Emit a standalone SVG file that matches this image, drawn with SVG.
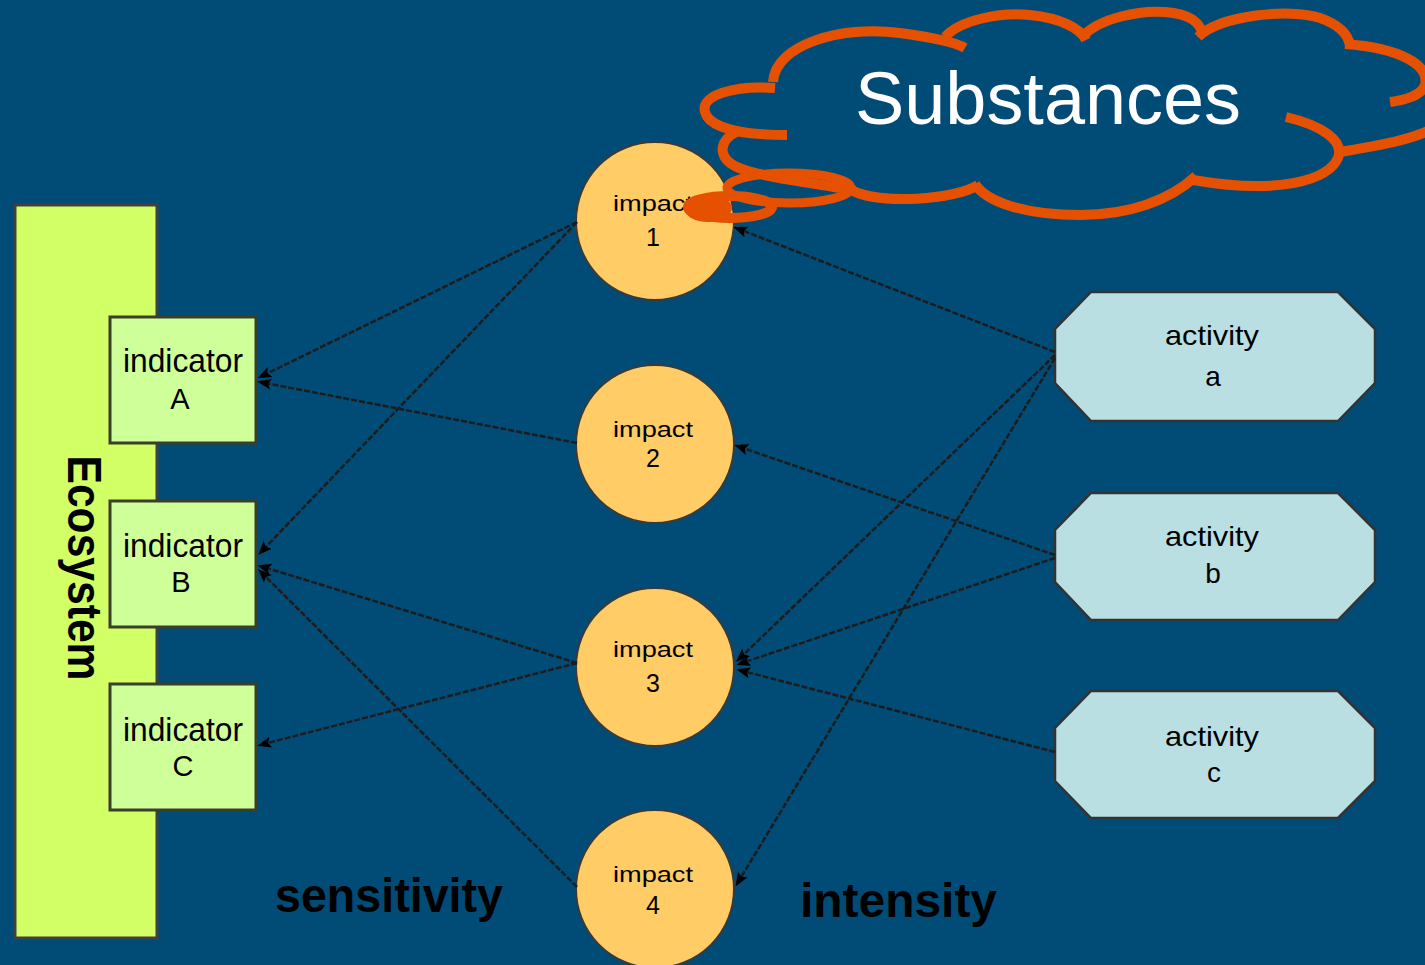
<svg xmlns="http://www.w3.org/2000/svg" width="1425" height="965" viewBox="0 0 1425 965">
<style>
.lbl{font-family:"Liberation Sans",Arial,sans-serif;fill:#000;text-anchor:middle}
.ind{font-size:34px}
.imp{font-size:22px}
.num{font-size:25px}
.act{font-size:28px}
.big{font-family:"Liberation Sans",Arial,sans-serif;font-weight:bold;fill:#000}
.conn{stroke:#1c1c1c;stroke-width:2.5;stroke-dasharray:6 2;fill:none}
.indbox{fill:#CFFF99;stroke:#3a3f2a;stroke-width:3}
.impc{fill:#FFCC66;stroke:#3a3a3a;stroke-width:2}
.actb{fill:#B9DFE3;stroke:#333;stroke-width:2.5}
.cloud{fill:none;stroke:#E55100;stroke-width:10;stroke-linecap:butt}
</style>
<defs>
<marker id="ah" viewBox="0 0 10 10" refX="8" refY="5" markerWidth="14" markerHeight="14" markerUnits="userSpaceOnUse" orient="auto">
<path d="M0,1 L10,5 L0,9 L2,5 z" fill="#000"/>
</marker>
</defs>
<rect x="0" y="0" width="1425" height="965" fill="#014C77"/>
<g id="ecosystem">
<rect x="15" y="205" width="142" height="733" fill="#D2FF66" stroke="#404040" stroke-width="3"/>
<text class="big" font-size="48" text-anchor="middle" textLength="225" lengthAdjust="spacingAndGlyphs" transform="translate(68,568) rotate(90)">Ecosystem</text>
</g>
<g id="indicatorA">
<rect class="indbox" x="110" y="317" width="146" height="126"/>
<text class="lbl ind" x="183" y="372" textLength="120" lengthAdjust="spacingAndGlyphs">indicator</text>
<text class="lbl" font-size="29" x="180" y="409">A</text>
</g>
<g id="indicatorB">
<rect class="indbox" x="110" y="501" width="146" height="126"/>
<text class="lbl ind" x="183" y="557" textLength="120" lengthAdjust="spacingAndGlyphs">indicator</text>
<text class="lbl" font-size="29" x="181" y="592">B</text>
</g>
<g id="indicatorC">
<rect class="indbox" x="110" y="684" width="146" height="126"/>
<text class="lbl ind" x="183" y="741" textLength="120" lengthAdjust="spacingAndGlyphs">indicator</text>
<text class="lbl" font-size="29" x="183" y="776">C</text>
</g>
<g id="impact1">
<circle class="impc" cx="655" cy="221" r="79"/>
<text class="lbl imp" x="653" y="211" textLength="80" lengthAdjust="spacingAndGlyphs">impact</text>
<text class="lbl num" x="653" y="246">1</text>
</g>
<g id="impact2">
<circle class="impc" cx="655" cy="444" r="79"/>
<text class="lbl imp" x="653" y="437" textLength="80" lengthAdjust="spacingAndGlyphs">impact</text>
<text class="lbl num" x="653" y="467">2</text>
</g>
<g id="impact3">
<circle class="impc" cx="655" cy="667" r="79"/>
<text class="lbl imp" x="653" y="657" textLength="80" lengthAdjust="spacingAndGlyphs">impact</text>
<text class="lbl num" x="653" y="692">3</text>
</g>
<g id="impact4">
<circle class="impc" cx="655" cy="889" r="79"/>
<text class="lbl imp" x="653" y="882" textLength="80" lengthAdjust="spacingAndGlyphs">impact</text>
<text class="lbl num" x="653" y="914">4</text>
</g>
<g id="activityA">
<polygon class="actb" points="1091,292 1338,292 1375,329 1375,383 1338,421 1091,421 1055,383 1055,329"/>
<text class="lbl act" x="1212" y="345" textLength="94" lengthAdjust="spacingAndGlyphs">activity</text>
<text class="lbl act" x="1213" y="386">a</text>
</g>
<g id="activityB">
<polygon class="actb" points="1091,493 1338,493 1375,530 1375,582 1338,620 1091,620 1055,582 1055,530"/>
<text class="lbl act" x="1212" y="546" textLength="94" lengthAdjust="spacingAndGlyphs">activity</text>
<text class="lbl act" x="1213" y="583">b</text>
</g>
<g id="activityC">
<polygon class="actb" points="1091,691 1338,691 1375,728 1375,781 1338,818 1091,818 1055,781 1055,728"/>
<text class="lbl act" x="1212" y="746" textLength="94" lengthAdjust="spacingAndGlyphs">activity</text>
<text class="lbl act" x="1214" y="782">c</text>
</g>
<g id="connectors">
<line class="conn" x1="577" y1="222" x2="260" y2="377" marker-end="url(#ah)"/>
<line class="conn" x1="577" y1="443" x2="260" y2="382" marker-end="url(#ah)"/>
<line class="conn" x1="577" y1="222" x2="260" y2="553" marker-end="url(#ah)"/>
<line class="conn" x1="577" y1="663" x2="260" y2="566" marker-end="url(#ah)"/>
<line class="conn" x1="577" y1="887" x2="260" y2="571" marker-end="url(#ah)"/>
<line class="conn" x1="577" y1="663" x2="260" y2="745" marker-end="url(#ah)"/>
<line class="conn" x1="1055" y1="352" x2="736" y2="228" marker-end="url(#ah)"/>
<line class="conn" x1="1055" y1="355" x2="738" y2="660" marker-end="url(#ah)"/>
<line class="conn" x1="1055" y1="358" x2="737" y2="884" marker-end="url(#ah)"/>
<line class="conn" x1="1055" y1="555" x2="737" y2="446" marker-end="url(#ah)"/>
<line class="conn" x1="1055" y1="558" x2="739" y2="664" marker-end="url(#ah)"/>
<line class="conn" x1="1055" y1="752" x2="739" y2="670" marker-end="url(#ah)"/>
</g>
<g id="labels">
<text class="big" font-size="48" x="275" y="912" textLength="228" lengthAdjust="spacingAndGlyphs">sensitivity</text>
<text class="big" font-size="48" x="800" y="917" textLength="197" lengthAdjust="spacingAndGlyphs">intensity</text>
</g>
<g id="substances">
<path class="cloud" d="M775,88 C735,85 700,95 705,112 C710,130 750,135 787,135"/>
<path class="cloud" d="M773,82 C775,45 840,25 900,33 C930,37 955,42 965,48"/>
<path class="cloud" d="M945,37 C960,20 1000,12 1030,15 C1060,18 1080,28 1086,40"/>
<path class="cloud" d="M1083,36 C1100,18 1140,10 1165,12 C1190,14 1200,22 1203,35"/>
<path class="cloud" d="M1198,37 C1220,15 1290,8 1320,18 C1340,25 1348,35 1350,45"/>
<path class="cloud" d="M1345,44 C1400,48 1430,65 1425,85 C1422,95 1405,100 1390,102"/>
<path class="cloud" d="M1340,152 C1380,145 1410,140 1430,130"/>
<path class="cloud" d="M1286,117 C1320,125 1345,140 1338,158 C1328,180 1280,195 1193,180"/>
<path class="cloud" d="M1196,176 C1170,200 1130,215 1080,215 C1020,215 985,200 975,184"/>
<path class="cloud" d="M978,185 C955,200 880,205 851,190"/>
<path class="cloud" d="M738,131 C715,142 718,162 745,170 C775,180 815,182 855,191"/>
<ellipse cx="789" cy="188" rx="62" ry="15" fill="none" stroke="#E55100" stroke-width="9"/>
<ellipse cx="730" cy="207" rx="42" ry="11" fill="none" stroke="#E55100" stroke-width="10"/>
<ellipse cx="708" cy="208" rx="24" ry="14" fill="#E55100"/>
<text x="855" y="124" font-family="'Liberation Sans',Arial,sans-serif" font-size="74" fill="#fff" textLength="386" lengthAdjust="spacingAndGlyphs">Substances</text>
</g>
</svg>
